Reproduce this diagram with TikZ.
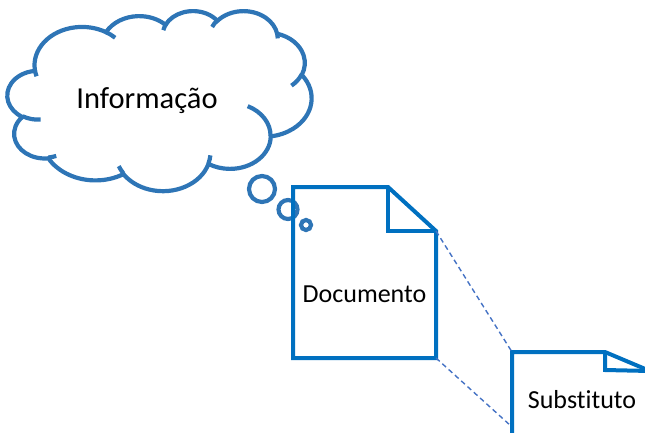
\documentclass[tikz,border=0pt]{standalone}
\usepackage{fontspec}
\setmainfont{Carlito}[Ligatures=NoCommon]
\definecolor{cloudblue}{HTML}{2E75B6}
\definecolor{docblue}{HTML}{0070C0}
\definecolor{dashblue}{HTML}{4472C4}
\tikzset{
  oa/.code n args={4}{%
    \pgfmathsetmacro\oaTa{atan2(#1*sin(#3),#2*cos(#3))}%
    \pgfmathsetmacro\oaTb{atan2(#1*sin(#3+#4),#2*cos(#3+#4))}%
    \pgfmathsetmacro\oaTd{mod(\oaTb-\oaTa+720,360)}%
    \edef\oaTmp{\noexpand\pgfkeysalso{start angle=\oaTa, delta angle=\oaTd, x radius=#1, y radius=#2}}%
    \oaTmp},
  cloudln/.style={draw=cloudblue, line width=4.2pt},
  docln/.style={draw=docblue, line width=4pt, line join=miter},
  dashln/.style={draw=dashblue, line width=1.4pt, dash pattern=on 5pt off 3.5pt},
  bubble/.style={circle, cloudln, inner sep=0pt, minimum size=#1},
  lbl/.style={inner sep=0pt, anchor=base, text=black},
}
\begin{document}
\begin{tikzpicture}[x=1pt,y=-1pt]
\useasboundingbox (0,0) rectangle (645,432);
\clip (0,0) rectangle (645,432);
% cloud (Office cloud geometry, units = 1/10 of 43200 grid)
\begin{scope}[shift={(7.5,10.5)}, x=0.0703704pt, y=-0.0416667pt]
\draw[cloudln] (390.0,1437.0)
  arc[oa={675.3}{919.0}{-190.4875}{123.7805}]
  arc[oa={533.3}{726.7}{-144.1024}{89.9452}]
  arc[oa={436.5}{594.5}{-145.8079}{99.7230}]
  arc[oa={485.7}{659.5}{-130.9861}{117.2417}]
  arc[oa={533.3}{727.3}{-78.7089}{109.0269}]
  arc[oa={677.5}{922.0}{-46.2673}{130.2690}]
  arc[oa={578.5}{786.7}{0.6250}{114.0333}]
  arc[oa={675.2}{921.5}{22.4516}{115.1726}]
  arc[oa={772.0}{1054.3}{66.2426}{75.7110}]
  arc[oa={436.0}{591.8}{-274.9421}{146.7356}]
  arc[oa={434.5}{594.5}{-246.8285}{152.5189}]
  -- cycle;
\draw[cloudln]
  (469.3,2617.7) arc[oa={434.5}{594.5}{86.7420}{26.4295}]
  (692.8,3489.9) arc[oa={436.0}{591.8}{73.6105}{11.4475}]
  (1647.8,3909.0) arc[oa={675.2}{921.5}{137.6242}{14.0811}]
  (2882.7,3475.1) arc[oa={675.2}{921.5}{6.4533}{15.9984}]
  (3412.9,2295.4) arc[oa={578.5}{786.7}{-70.2924}{70.9174}]
  (4179.8,1535.4) arc[oa={533.3}{727.3}{30.3180}{27.7515}]
  (3832.4,542.6) arc[oa={485.7}{659.5}{-13.7443}{14.8589}]
  (2907.8,395.2) arc[oa={485.7}{659.5}{-149.1815}{18.1954}]
  (2214.1,472.0) arc[oa={436.5}{594.5}{-163.4943}{20.7647}]
  (1400.0,519.2) arc[oa={675.3}{919.0}{-66.7070}{12.3194}]
  (412.7,1578.9) arc[oa={675.3}{919.0}{157.6544}{11.8582}];
\end{scope}
\node[lbl, font=\fontsize{30.5}{36}\selectfont] (info) at (147,108) {Informação};
% thought bubbles
\node[bubble=26pt] (b1) at (262,189) {};
\node[bubble=19pt] (b2) at (288,209.5) {};
\node[bubble=10pt] (b3) at (306,225) {};
% Documento
\coordinate (dTL) at (293,187);
\coordinate (dF) at (388,187);
\coordinate (dFC) at (436,231);
\coordinate (dBR) at (436,358);
\coordinate (dBL) at (293,358);
\draw[docln] (dTL) -- (dF) -- (dFC) -- (dBR) -- (dBL) -- cycle;
\draw[docln] (dF) -- (388,231) -- (dFC);
\node[lbl, font=\fontsize{26}{31}\selectfont] (docu) at (364.5,302) {Documento};
% Substituto
\coordinate (sTL) at (512,352);
\coordinate (sF) at (605,352);
\coordinate (sFC) at (650,371);
\coordinate (sBL) at (512,445);
\draw[docln] (sBL) -- (sTL) -- (sF) -- (sFC) -- (650,445);
\draw[docln] (sF) -- (605,370) -- (sFC);
\node[lbl, font=\fontsize{26}{31}\selectfont] (subs) at (582,408) {Substituto};
% dashed connectors
\coordinate (sLow) at (511,426);
\draw[dashln] (dFC) -- (sTL);
\draw[dashln] (dBR) -- (sLow);
\end{tikzpicture}
\end{document}
